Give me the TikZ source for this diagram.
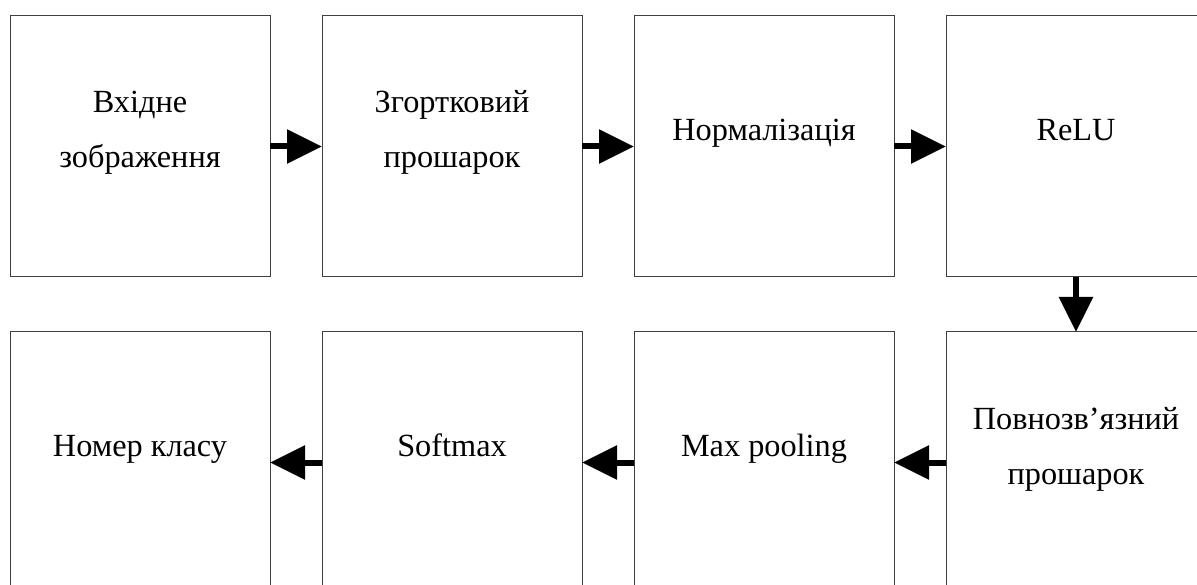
\documentclass[tikz,border=0pt]{standalone}
\usepackage{fontspec}
\setmainfont{Liberation Serif}
\usetikzlibrary{arrows.meta}

\tikzset{
  stage/.style={draw=black!75, line width=1pt, minimum width=260pt,
    minimum height=261pt, inner sep=0pt, outer sep=0pt},
  caption/.style={align=center, inner sep=0pt,
    font=\fontsize{32.3}{55}\selectfont},
  flow/.style={line width=6pt, -{Triangle[length=35pt,width=33pt]}}
}
\newcommand{\capline}[1]{#1\strut}

\begin{document}
\begin{tikzpicture}[x=1pt,y=-1pt]
  \useasboundingbox (0,0) rectangle (1197,585);
  \clip (0,0) rectangle (1197,585);

  % upper row of stages
  \node[stage] (in)   at (140,146.5)  {};
  \node[stage] (conv) at (452,146.5)  {};
  \node[stage] (norm) at (764,146.5)  {};
  \node[stage] (relu) at (1076,146.5) {};
  % lower row of stages
  \node[stage] (fc)   at (1076,462.5) {};
  \node[stage] (pool) at (764,462.5)  {};
  \node[stage] (soft) at (452,462.5)  {};
  \node[stage] (cls)  at (140,462.5)  {};

  % stage captions
  \node[caption] (tin)   at ([yshift=17pt]in.center)   {\capline{Вхідне}\\\capline{зображення}};
  \node[caption] (tconv) at ([yshift=17pt]conv.center) {\capline{Згортковий}\\\capline{прошарок}};
  \node[caption] (tnorm) at ([yshift=17pt]norm.center) {\capline{Нормалізація}};
  \node[caption] (trelu) at ([yshift=17pt]relu.center) {\capline{ReLU}};
  \node[caption] (tfc)   at ([yshift=17pt]fc.center)   {\capline{Повнозв’язний}\\\capline{прошарок}};
  \node[caption] (tpool) at ([yshift=17pt]pool.center) {\capline{Max pooling}};
  \node[caption] (tsoft) at ([yshift=17pt]soft.center) {\capline{Softmax}};
  \node[caption] (tcls)  at ([yshift=17pt]cls.center)  {\capline{Номер класу}};

  % data flow
  \draw[flow] (in.east)    -- (conv.west);
  \draw[flow] (conv.east)  -- (norm.west);
  \draw[flow] (norm.east)  -- (relu.west);
  \draw[flow] (relu.south) -- (fc.north);
  \draw[flow] (fc.west)    -- (pool.east);
  \draw[flow] (pool.west)  -- (soft.east);
  \draw[flow] (soft.west)  -- (cls.east);
\end{tikzpicture}
\end{document}
